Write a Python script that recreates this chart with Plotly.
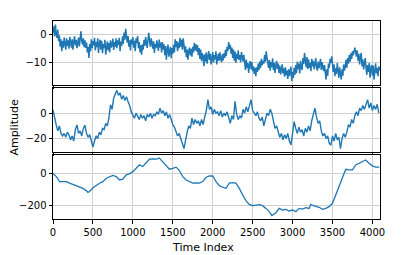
import plotly.graph_objects as go
from plotly.subplots import make_subplots

# ---- data ----
step_top = 10
amp_top = [
    0.5, 2.8, -0.8, 3.4, 0.2, -1.3, 1.6, -2.5, -0.5, -4.5, -1.8, -6.1, -2.5, -4.8, -1.2, -3.8, -5.5, -1.5, -4.2, -2.2,
    -5.2, -1.0, -3.5, -4.8, -1.8, -5.5, -2.6, -0.8, -4.0, -2.0, -5.0, -3.0, -1.2, -4.4, -0.2, 1.0, -2.5, -3.7, -1.5, -4.6,
    -2.2, -4.9, -3.0, -6.5, -4.5, -8.5, -3.5, -6.2, -1.8, -5.0, -2.5, -4.0, -1.3, -5.8, -2.8, -4.6, -1.5, -6.7, -3.2, -2.0,
    -5.5, -2.4, -6.8, -3.5, -5.0, -2.0, -7.3, -4.0, -2.6, -5.8, -3.2, -6.5, -2.2, -4.8, -3.8, -1.6, -5.6, -2.8, -4.4, -1.5,
    -5.0, -2.2, -3.8, -1.3, -6.1, -2.6, -4.2, -0.8, -3.5, 0.6, -2.0, 1.9, -1.5, -3.0, -0.7, -4.5, -2.2, -5.8, -1.8, -3.6,
    -1.0, -4.8, -2.4, -6.1, -1.5, -3.2, -0.7, -5.0, -2.8, -6.5, -4.0, -7.3, -3.6, -5.5, -2.0, -4.2, -1.0, -3.4, -4.9, -1.8,
    0.5, -2.6, -4.5, -1.5, -3.8, -5.2, -2.5, -6.7, -3.5, -5.0, -2.2, -4.4, -6.0, -1.9, -4.8, -3.0, -6.5, -2.8, -5.4, -3.6,
    -7.5, -4.2, -9.1, -5.5, -3.7, -8.0, -6.2, -4.5, -8.6, -5.0, -7.0, -3.8, -6.5, -1.8, -4.6, -2.5, -6.1, -3.0, -5.0, -1.3,
    -4.5, -2.0, -5.5, -1.5, -3.8, -6.5, -4.3, -8.2, -5.5, -9.1, -6.0, -4.8, -7.6, -5.2, -8.0, -4.5, -6.5, -3.1, -5.8, -3.6,
    -6.2, -4.0, -7.5, -5.0, -8.8, -5.5, -9.6, -6.8, -8.0, -11.4, -7.2, -9.8, -6.5, -10.5, -8.2, -6.0, -9.2, -7.0, -10.8, -8.0,
    -6.4, -10.2, -7.5, -9.0, -6.1, -10.8, -8.0, -7.0, -9.5, -6.5, -8.8, -10.0, -7.2, -9.4, -6.8, -8.5, -5.6, -7.8, -4.5, -6.0,
    -2.8, -5.2, -3.8, -7.0, -4.8, -8.5, -5.5, -9.5, -6.2, -10.3, -7.0, -8.8, -5.8, -9.2, -7.5, -10.0, -6.4, -8.2, -9.7, -7.4,
    -10.5, -12.8, -9.1, -12.0, -10.2, -13.8, -11.0, -9.6, -12.5, -10.0, -13.2, -11.5, -14.2, -12.0, -15.0, -11.8, -13.5, -10.5, -12.8, -9.8,
    -12.0, -8.8, -11.0, -9.5, -10.5, -7.5, -9.8, -6.1, -8.5, -10.5, -12.0, -9.2, -13.0, -10.0, -11.8, -8.6, -12.8, -10.2, -13.8, -11.0,
    -9.5, -12.5, -10.5, -13.8, -11.2, -14.4, -12.0, -10.8, -14.0, -12.2, -15.2, -11.8, -14.6, -13.0, -16.0, -12.5, -15.0, -13.5, -11.6, -16.8,
    -13.5, -15.6, -12.0, -14.5, -11.0, -13.8, -9.8, -12.5, -10.5, -14.0, -9.5, -11.8, -12.8, -8.5, -10.6, -6.7, -9.5, -11.8, -8.2, -12.5,
    -9.0, -12.0, -10.2, -13.2, -8.8, -11.5, -9.5, -12.6, -10.8, -8.5, -11.8, -13.0, -9.8, -12.2, -10.5, -8.8, -12.8, -10.0, -11.6, -13.2,
    -11.0, -14.0, -16.2, -12.5, -14.8, -10.5, -12.0, -8.8, -10.2, -7.9, -11.5, -13.5, -10.8, -15.0, -12.2, -14.2, -10.3, -13.0, -15.6, -11.8,
    -14.0, -16.2, -12.5, -14.8, -10.8, -13.0, -11.5, -9.2, -12.0, -8.5, -10.5, -7.5, -9.8, -6.8, -8.8, -6.1, -7.6, -5.5, -4.8, -6.5,
    -8.0, -5.8, -9.5, -7.0, -10.8, -8.2, -6.7, -11.5, -9.0, -12.6, -10.0, -8.5, -12.0, -14.5, -11.0, -13.5, -10.3, -15.5, -12.5, -11.0,
    -14.8, -11.2, -16.2, -12.5, -10.4, -14.0, -12.0, -15.0, -11.5, -13.0]

step_mid = 20
amp_mid = [
    2.6, -5, -9.3, -14, -10, -16, -18, -16, -19, -15,
    -17, -21, -18, -22, -13, -9.3, -16, -14, -18, -12,
    -9.5, -16, -19, -17, -21, -26.7, -22, -18, -20, -15,
    -17, -12, -13, -8, -10, -4, 6.6, 3, 12, 15,
    18, 14, 16, 11, 14, 10, 13, 9, 6, 1,
    -1, -4, 0, -3, -5, -1, -4, -2, -6, -1,
    -3, 0, -4, -1, -2, 1, -1, 4, 0, 2,
    -2, 1, -4, -1, -5, -9, -11, -15, -18, -16,
    -21, -24, -28, -20, -15, -10, -12, -4, -9, -5,
    -8, -6, -10, -5, -9, -3, 2, 10.7, 3, 5,
    -1, 3, 0, 1, -2, 2, -3, 0, -2, 1,
    -3, -8, -2, -5, 9.3, -1, -5, -2, -4, 3,
    0, 5, 1, 6, 10.7, 2, 0, -2, 1, -4,
    -6, -3, -10, -4, 0, -2, 3, 0, -6, -12,
    -10, -15, -19, -16, -21, -17, -20, -16, -22, -25,
    -15, -6.7, -12, -16, -11, -15, -13, -18, -12, -15,
    -10, -14, -6, -2, 4, -3, -8, -6, -14, -18,
    -16, -20, -18, -24, -25, -18, -22, -16, -21, -19,
    -28, -20, -16, -19, -15, -9, -11, -5, -8, -2,
    1, -2, 4, 2, 6, 3, 7, 10.7, 4, 8,
    2, 6, 3, 7, 0]

time_bot = [0, 42, 83, 167, 208, 292, 375, 417, 437, 458, 500, 583, 625, 667,
            708, 750, 792, 833, 875, 917, 958, 1000, 1042, 1083, 1125, 1167,
            1208, 1250, 1292, 1333, 1375, 1417, 1458, 1500, 1542, 1583, 1625,
            1667, 1708, 1750, 1792, 1833, 1875, 1917, 1958, 2000, 2042, 2083,
            2125, 2166, 2208, 2250, 2291, 2333, 2375, 2416, 2458, 2500, 2583,
            2625, 2666, 2708, 2741, 2791, 2833, 2875, 2916, 2958, 3000, 3041,
            3083, 3125, 3166, 3208, 3229, 3270, 3333, 3375, 3416, 3458, 3500,
            3541, 3583, 3625, 3666, 3708, 3750, 3791, 3833, 3875, 3916, 3958,
            4000, 4041, 4087]
amp_bot = [0, -19, -50, -50, -60, -77, -92, -106, -117, -112, -88, -60, -50, -29,
           -19, -12, -19, -40, -35, -8, -2, 12, 33, 54, 44, 65,
           90, 92, 90, 96, 75, 54, 27, 33, 40, 19, -19,
           -40, -50, -60, -58, -60, -50, -23, -15, -15, -50, -75,
           -85, -92, -60, -56, -60, -92, -133, -169, -192, -200, -194,
           -200, -217, -237, -262, -244, -217, -227, -223, -233, -227, -237,
           -217, -221, -212, -217, -192, -202, -210, -223, -217, -206, -185,
           -133, -71, -19, 27, 23, 23, 54, 65, 71, 85, 65,
           48, 40, 40]

x_ticks = [0, 500, 1000, 1500, 2000, 2500, 3000, 3500, 4000]
y_ticks_top = [-10, 0]
y_ticks_mid = [-20, 0]
y_ticks_bot = [-200, 0]

time_top = [i * step_top for i in range(len(amp_top))]
time_mid = [i * step_mid for i in range(len(amp_mid))]

# ---- figure ----
BLUE = "#1f77b4"
fig = make_subplots(rows=3, cols=1, shared_xaxes=True, vertical_spacing=0.016)
fig.add_trace(go.Scatter(x=time_top, y=amp_top, mode="lines",
                         line=dict(color=BLUE, width=1.5)), row=1, col=1)
fig.add_trace(go.Scatter(x=time_mid, y=amp_mid, mode="lines",
                         line=dict(color=BLUE, width=1.4)), row=2, col=1)
fig.add_trace(go.Scatter(x=time_bot, y=amp_bot, mode="lines",
                         line=dict(color=BLUE, width=1.3)), row=3, col=1)

axis_common = dict(showline=True, mirror=True, linecolor="black", linewidth=1,
                   showgrid=True, gridcolor="#d0d0d0", gridwidth=1,
                   ticks="outside", ticklen=3.5, tickwidth=0.8, tickcolor="black",
                   zeroline=False, tickfont=dict(size=10, color="black"))

for r in (1, 2, 3):
    fig.update_xaxes(range=[0, 4095], tickvals=x_ticks, row=r, col=1, **axis_common)
fig.update_xaxes(showticklabels=False, row=1, col=1)
fig.update_xaxes(showticklabels=False, row=2, col=1)
fig.update_yaxes(range=[-18.1, 4.7], tickvals=y_ticks_top, row=1, col=1, **axis_common)
fig.update_yaxes(range=[-30.6, 19.8], tickvals=y_ticks_mid, row=2, col=1, **axis_common)
fig.update_yaxes(range=[-283, 115], tickvals=y_ticks_bot, row=3, col=1, **axis_common)

fig.add_annotation(text="Amplitude", xref="paper", yref="paper", x=-0.119, y=0.462,
                   xanchor="center", yanchor="middle", textangle=-90, showarrow=False,
                   font=dict(size=11, color="black"))
fig.add_annotation(text="Time Index", xref="paper", yref="paper", x=0.46, y=-0.145,
                   xanchor="center", yanchor="middle", showarrow=False,
                   font=dict(size=11, color="black"))

# the page adds an 8px body margin, so the margins are shifted to compensate
fig.update_layout(width=407, height=255, showlegend=False,
                  margin=dict(l=45, r=35, t=13, b=44),
                  plot_bgcolor="white", paper_bgcolor="white",
                  font=dict(family="DejaVu Sans", color="black"))

fig.write_html("out.html")
